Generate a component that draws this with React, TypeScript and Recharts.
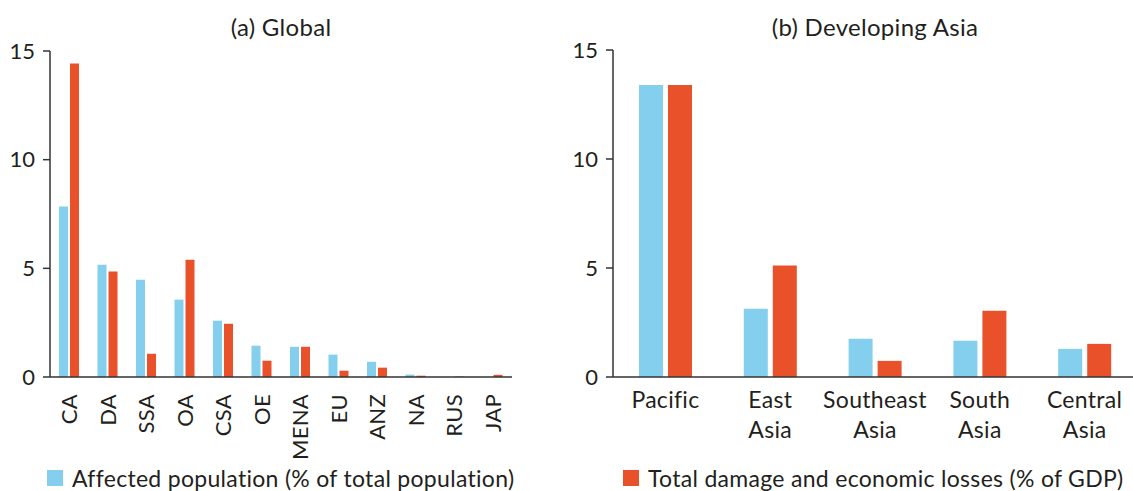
import React from 'react';
import { BarChart, Bar, XAxis, YAxis, Legend } from 'recharts';

const globalCategories = ['CA', 'DA', 'SSA', 'OA', 'CSA', 'OE', 'MENA', 'EU', 'ANZ', 'NA', 'RUS', 'JAP'];
const globalAffected = [7.84, 5.17, 4.48, 3.56, 2.59, 1.44, 1.39, 1.03, 0.7, 0.11, 0, 0];
const globalLosses = [14.43, 4.85, 1.07, 5.4, 2.45, 0.75, 1.39, 0.29, 0.43, 0.06, 0.02, 0.1];

const asiaCategories = ['Pacific', 'East Asia', 'Southeast Asia', 'South Asia', 'Central Asia'];
const asiaAffected = [13.39, 3.13, 1.75, 1.66, 1.29];
const asiaLosses = [13.39, 5.11, 0.74, 3.04, 1.52];

const yTicks = [0, 5, 10, 15];

const seriesNames = {
  affected: 'Affected population (% of total population)',
  losses: 'Total damage and economic losses (% of GDP)',
};

const BLUE = '#84CFEE';
const RED = '#E9512B';
const TEXT = '#231F20';
const FONT = 'Lato, "Open Sans", sans-serif';

const globalData = globalCategories.map((c, i) => ({ name: c, affected: globalAffected[i], losses: globalLosses[i] }));
const asiaData = asiaCategories.map((c, i) => ({ name: c, affected: asiaAffected[i], losses: asiaLosses[i] }));

const RotatedTick = (props: any) => {
  const { x, y, payload } = props;
  return (
    <g transform={`translate(${x},${y})`}>
      <text transform="rotate(-90)" x={-9} y={8} textAnchor="end" fontSize={22} letterSpacing={0.3} fill={TEXT} fontFamily={FONT}>
        {payload.value}
      </text>
    </g>
  );
};

const WrapTick = (props: any) => {
  const { x, y, payload } = props;
  const words = String(payload.value).split(' ');
  return (
    <g transform={`translate(${x},${y})`}>
      <text textAnchor="middle" fontSize={23} letterSpacing={0.3} fill={TEXT} fontFamily={FONT}>
        {words.map((w, i) => (
          <tspan key={i} x={0} y={23 + i * 30}>
            {w}
          </tspan>
        ))}
      </text>
    </g>
  );
};

const makeLegend = (key: string) => (props: any) => {
  const items = (props.payload || []).filter((p: any) => p.dataKey === key);
  return (
    <div style={{ display: 'flex', alignItems: 'center' }}>
      {items.map((it: any, i: number) => (
        <div key={i} style={{ display: 'flex', alignItems: 'center' }}>
          <span style={{ width: 16, height: 16, background: it.color, display: 'inline-block', marginRight: 9 }} />
          <span style={{ fontSize: 23, letterSpacing: 0.3, color: TEXT, fontFamily: FONT, lineHeight: '26px', whiteSpace: 'nowrap' }}>{it.value}</span>
        </div>
      ))}
    </div>
  );
};

const tickStyle = { fontSize: 22, fill: TEXT, fontFamily: FONT };

export default function App() {
  return (
    <div style={{ position: 'absolute', left: 0, top: 0, width: 1133, height: 491, overflow: 'hidden', background: '#fff', fontFamily: FONT }}>
      <div style={{ position: 'absolute', left: 0, top: 13, width: 562, textAlign: 'center', fontSize: 24, letterSpacing: 0.3, lineHeight: '28px', color: TEXT }}>
        (a) Global
      </div>
      <div style={{ position: 'absolute', left: 613, top: 13, width: 524, textAlign: 'center', fontSize: 24, letterSpacing: 0.3, lineHeight: '28px', color: TEXT }}>
        (b) Developing Asia
      </div>

      <div style={{ position: 'absolute', left: 0, top: 0 }}>
        <BarChart width={540} height={491} data={globalData} margin={{ top: 51, right: 28, bottom: 0, left: 0 }} barSize={9} barGap={2}>
          <XAxis dataKey="name" height={114} interval={0} tickLine={false} tick={<RotatedTick />} axisLine={{ stroke: '#333', strokeWidth: 1.5 }} />
          <XAxis xAxisId="top" orientation="top" dataKey="name" height={0} tick={false} tickLine={false} axisLine={{ stroke: '#666', strokeWidth: 1.5 }} />
          <YAxis domain={[0, 15]} ticks={yTicks} width={50} tickSize={7} tickMargin={8} tick={tickStyle} axisLine={{ stroke: '#333', strokeWidth: 1.5 }} tickLine={{ stroke: '#333', strokeWidth: 1.5 }} />
          <YAxis yAxisId="right" orientation="right" domain={[0, 15]} width={0} tick={false} tickLine={false} axisLine={{ stroke: '#777', strokeWidth: 1.5 }} />
          <Legend
            layout="horizontal"
            verticalAlign="middle"
            align="center"
            content={makeLegend('affected')}
            wrapperStyle={{ position: 'absolute', left: 47, top: 465, width: 520, height: 26 }}
          />
          <Bar dataKey="affected" name={seriesNames.affected} fill={BLUE} isAnimationActive={false} />
          <Bar dataKey="losses" name={seriesNames.losses} fill={RED} isAnimationActive={false} />
        </BarChart>
      </div>

      <div style={{ position: 'absolute', left: 560, top: 0 }}>
        <BarChart width={577} height={491} data={asiaData} margin={{ top: 50, right: 0, bottom: 0, left: 0 }} barSize={24} barGap={5}>
          <XAxis dataKey="name" height={114} interval={0} tickLine={false} tick={<WrapTick />} axisLine={{ stroke: '#333', strokeWidth: 1.5 }} />
          <XAxis xAxisId="top" orientation="top" dataKey="name" height={0} tick={false} tickLine={false} axisLine={{ stroke: '#666', strokeWidth: 1.5 }} />
          <YAxis domain={[0, 15]} ticks={yTicks} width={53} tickSize={7} tickMargin={8} tick={tickStyle} axisLine={{ stroke: '#333', strokeWidth: 1.5 }} tickLine={{ stroke: '#333', strokeWidth: 1.5 }} />
          <Legend
            layout="horizontal"
            verticalAlign="middle"
            align="center"
            content={makeLegend('losses')}
            wrapperStyle={{ position: 'absolute', left: 63, top: 465, width: 520, height: 26 }}
          />
          <Bar dataKey="affected" name={seriesNames.affected} fill={BLUE} isAnimationActive={false} />
          <Bar dataKey="losses" name={seriesNames.losses} fill={RED} isAnimationActive={false} />
        </BarChart>
      </div>
    </div>
  );
}
